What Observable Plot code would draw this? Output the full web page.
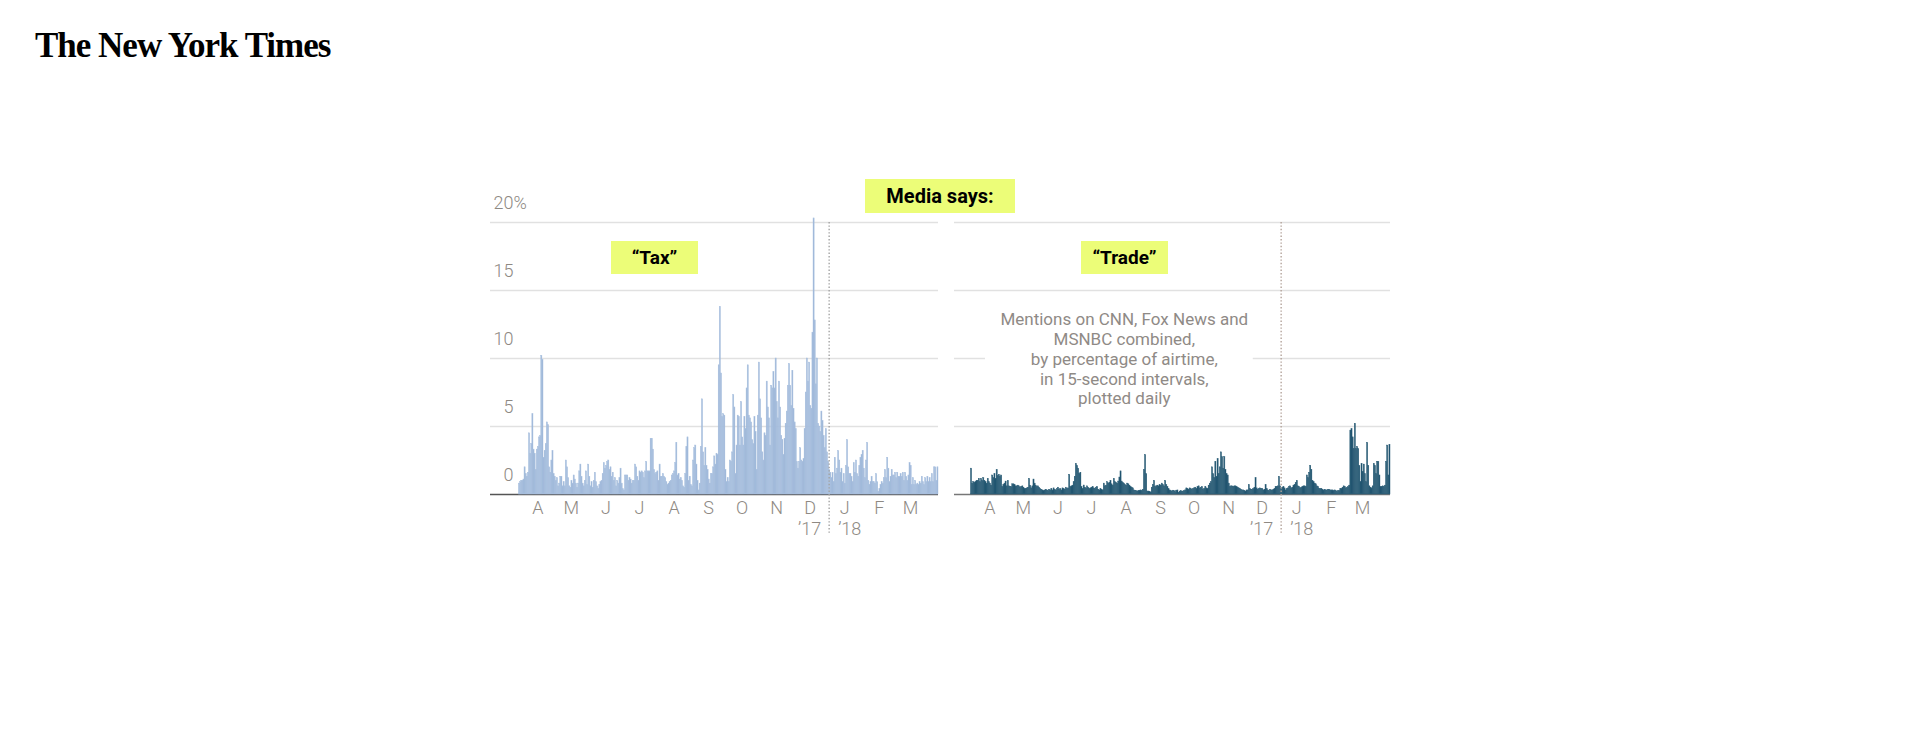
<!DOCTYPE html>
<html>
<head>
<meta charset="utf-8">
<script src="https://cdn.jsdelivr.net/npm/d3@7"></script>
<script src="https://cdn.jsdelivr.net/npm/@observablehq/plot@0.6"></script>
<style>
  html, body { margin: 0; padding: 0; background: #fff; }
  body { width: 1920px; height: 740px; position: relative; overflow: hidden; font-family: Roboto, "Liberation Sans", sans-serif; }
  .logo { position: absolute; left: 35px; top: 28px; font-family: "Liberation Serif", "DejaVu Serif", serif; font-weight: bold; font-size: 35px; line-height: 1; color: #000; letter-spacing: -1px; }
  .tag { position: absolute; background: #ecfd78; color: #000; font-weight: bold; display: flex; align-items: center; justify-content: center; }
  .chart { position: absolute; }
</style>
</head>
<body>
<div class="logo">The New York Times</div>
<div class="tag" style="left:865px;top:179px;width:150px;height:34px;font-size:20px;">Media says:</div>
<div class="tag" style="left:611px;top:241px;width:87px;height:33px;font-size:19px;">“Tax”</div>
<div class="tag" style="left:1081px;top:241px;width:87px;height:33px;font-size:19px;">“Trade”</div>
<div id="left" class="chart" style="left:480px;top:150px;"></div>
<div id="right" class="chart" style="left:945px;top:150px;"></div>
<script>
// first plotted day of both series
const startDay = "2017-03-29";

// "Tax" share of airtime (%), daily
const taxValues = [
0.8,0.9,1.0,1.0,1.1,2.0,1.5,1.3,1.6,4.5,
3.0,3.7,5.9,3.3,3.0,1.8,3.3,3.5,4.2,4.3,
10.2,9.9,2.7,3.2,3.7,5.3,5.1,2.0,1.6,2.5,
3.2,1.5,1.3,1.0,1.2,0.6,0.8,1.3,1.3,0.6,
0.9,0.6,2.5,2.0,1.2,0.6,0.5,1.0,0.8,1.4,
1.1,0.8,0.5,0.8,1.7,2.2,1.3,0.8,0.6,1.0,
1.7,0.7,2.2,1.3,0.6,0.9,0.5,1.0,1.6,0.9,
0.6,0.4,0.7,0.9,1.0,1.5,2.3,1.9,2.1,2.4,
2.5,1.8,2.0,1.3,1.6,1.0,1.2,0.6,1.0,0.8,
1.2,1.9,0.8,0.4,0.3,1.4,1.4,1.4,1.0,1.2,
1.1,0.8,1.0,1.0,2.2,2.0,1.3,1.0,1.7,1.6,
1.7,1.6,1.2,1.7,2.4,1.7,1.7,1.7,4.1,4.1,
3.3,1.8,1.5,1.6,1.7,1.0,2.2,1.3,1.3,1.5,
1.3,1.2,0.9,0.7,0.8,0.9,1.0,1.4,1.5,1.7,
2.3,3.8,1.4,1.5,1.1,1.2,1.0,0.6,0.5,1.5,
3.5,4.2,1.0,1.3,0.7,0.6,2.5,3.4,3.6,2.2,
1.0,0.3,0.8,3.5,7.0,3.1,2.1,3.4,2.1,1.8,
1.1,0.8,1.5,1.5,2.0,2.8,2.2,3.0,2.9,9.5,
13.8,8.9,5.7,5.9,5.8,1.8,0.9,1.2,0.9,2.5,
2.4,3.1,7.3,6.4,1.5,3.6,5.8,5.7,3.6,6.8,
4.2,3.6,5.7,4.8,7.8,9.5,5.8,5.6,5.3,4.0,
3.7,5.7,4.6,1.8,5.8,9.7,7.0,5.6,3.1,2.5,
4.5,4.3,8.3,6.4,5.6,3.6,8.0,7.8,9.0,7.8,
10.0,6.8,5.6,8.3,6.4,4.3,4.0,2.9,4.1,5.2,
6.1,8.0,9.6,8.0,6.5,9.1,6.3,5.3,4.8,2.4,
1.9,2.4,3.4,2.5,2.4,2.6,4.8,7.5,10.0,8.3,
9.7,6.5,6.3,11.9,20.3,12.8,8.1,10.0,5.2,5.0,
4.6,6.1,5.4,4.3,3.4,4.8,3.1,2.4,1.8,1.6,
1.2,1.6,0.9,2.7,1.5,1.9,3.2,2.5,1.6,1.9,
0.9,1.5,0.8,2.1,4.0,2.0,1.5,1.5,1.3,0.9,
2.3,1.6,2.5,1.5,1.3,2.1,2.7,2.9,3.2,1.9,
1.2,2.5,3.8,1.0,0.7,0.9,1.3,0.9,0.9,0.8,
1.5,0.9,0.2,0.4,0.7,0.9,0.8,1.2,1.8,1.2,
2.7,1.9,0.9,1.3,1.8,1.4,1.4,1.6,1.2,1.6,
1.3,1.3,1.5,1.3,1.6,1.0,1.6,1.3,1.0,1.4,
2.3,2.1,0.7,1.2,0.7,1.0,0.7,0.8,0.7,0.9,
0.8,1.3,0.9,0.7,1.2,0.9,1.3,0.9,1.2,0.9,
1.5,0.9,2.0,2.0,1.0,2.0
];

// "Trade" share of airtime (%), daily
const tradeValues = [
1.9,0.8,0.9,0.85,0.9,1.0,1.0,1.15,0.9,1.15,
1.0,1.2,1.0,0.9,0.8,1.15,0.9,0.8,0.65,1.4,
1.2,1.5,1.15,1.8,1.35,1.45,1.3,1.4,0.55,0.7,
0.8,0.95,0.6,1.0,0.6,0.55,0.55,0.75,0.75,0.7,
0.6,0.6,0.65,0.6,0.5,0.55,0.6,0.5,0.4,0.4,
0.45,0.5,1.15,0.65,0.45,0.6,1.1,0.8,0.65,0.55,
0.6,0.5,0.4,0.35,0.3,0.25,0.3,0.35,0.3,0.25,
0.35,0.3,0.4,0.3,0.45,0.35,0.3,0.4,0.5,0.35,
0.4,0.3,0.45,0.4,0.35,0.5,0.4,0.45,1.45,0.55,
0.6,0.65,0.9,1.3,2.25,2.1,1.9,1.5,1.6,0.55,
0.4,0.66,0.5,0.45,0.6,0.5,0.4,0.45,0.5,0.55,
0.45,0.4,0.5,0.55,0.35,0.3,0.4,0.35,0.3,0.8,
0.6,0.65,0.9,0.8,0.85,1.0,0.75,0.65,1.15,0.9,
0.85,0.8,0.95,1.25,1.7,0.95,0.85,0.8,0.7,0.65,
0.8,0.75,0.65,0.55,0.5,0.45,0.3,0.28,0.25,0.22,
0.25,0.28,0.3,0.25,0.35,1.8,2.9,1.5,0.22,0.22,
0.2,0.15,0.5,0.7,1.0,0.55,0.6,0.65,0.6,0.7,
0.65,0.8,0.7,0.6,1.0,0.7,0.55,0.4,0.3,0.25,
0.22,0.28,0.25,0.18,0.28,0.3,0.12,0.22,0.25,0.2,
0.22,0.25,0.3,0.45,0.4,0.35,0.45,0.4,0.35,0.4,
0.45,0.5,0.4,0.55,0.6,0.45,0.5,0.55,0.35,0.4,
0.55,0.45,0.4,0.65,0.8,0.9,2.0,1.5,1.2,2.4,
1.3,2.6,1.5,2.0,3.1,2.75,1.9,2.75,1.8,1.5,
1.4,0.8,0.55,0.6,0.6,0.55,0.6,0.6,0.55,0.5,
0.45,0.4,0.35,0.3,0.3,0.25,0.22,0.3,0.3,0.7,
0.4,0.35,0.35,0.4,0.5,1.2,0.45,0.35,0.4,0.45,
0.4,0.4,0.3,0.35,0.7,0.4,0.3,0.25,0.35,0.3,
0.3,0.35,0.4,0.55,0.55,0.6,1.3,0.6,0.4,0.5,
0.55,0.45,0.3,0.4,0.45,0.55,0.6,0.45,0.5,0.65,
0.7,0.85,1.0,0.6,0.55,0.45,0.5,0.55,0.6,0.6,
0.55,1.4,1.2,1.6,2.1,1.8,1.0,0.9,0.8,0.75,
0.6,0.55,0.4,0.4,0.4,0.35,0.3,0.35,0.3,0.3,
0.35,0.35,0.3,0.3,0.3,0.25,0.3,0.25,0.2,0.25,
0.25,0.4,0.4,0.5,0.6,0.55,0.45,0.5,0.55,0.65,
4.7,4.8,4.2,3.35,5.2,3.35,3.5,3.35,2.1,0.9,
2.25,1.65,2.2,1.5,0.9,3.8,2.1,0.6,0.5,0.45,
0.6,2.25,2.1,1.5,2.4,2.4,1.4,0.55,0.55,0.6,
0.55,0.65,2.4,3.6,1.4,3.65
];

const yTicks = [0, 5, 10, 15, 20];
const monthLabels = ["A","M","J","J","A","S","O","N","D","J","F","M"];
const yearLabels = ["’17", "’18"];
const yearBreak = "2018-01-01";
const noteText = "Mentions on CNN, Fox News and\nMSNBC combined,\nby percentage of airtime,\nin 15-second intervals,\nplotted daily";

const start = new Date(startDay + "T00:00Z");
const tax = taxValues.map((v, i) => ({date: d3.utcDay.offset(start, i), value: v}));
const trade = tradeValues.map((v, i) => ({date: d3.utcDay.offset(start, i), value: v}));
const monthTicks = monthLabels.map((m, i) => ({date: new Date(Date.UTC(2017, 3 + i, 15)), label: m}));
const breakDate = new Date(yearBreak + "T00:00Z");

const gray = "#8e8983";
const font = "Roboto, 'Liberation Sans', sans-serif";

function panel({data, fill, edge, domainStart, width, marginLeft, marginRight, yLabels, dotColor, baseColor, note}) {
  const marks = [
    Plot.ruleY(yTicks.filter(d => d > 0), {stroke: "#e1e1e1", strokeWidth: 1.3}),
  ];
  if (note) {
    marks.push(Plot.rect([0], {
      x1: () => new Date("2017-04-11T00:00Z"), x2: () => new Date("2017-12-07T00:00Z"),
      y1: () => 6.2, y2: () => 13.9, fill: "white"
    }));
    marks.push(Plot.text([noteText], {
      x: () => new Date("2017-08-13T10:00Z"), y: () => 10, text: d => d,
      textAnchor: "middle", lineAnchor: "middle", lineHeight: 1.16,
      fontSize: 17, fill: "#8f8a86", fontFamily: font
    }));
  }
  marks.push(
    Plot.ruleY([0], {stroke: baseColor, strokeWidth: 1.3}),
    Plot.rectY(data, {x: "date", y: "value", interval: "day", fill, stroke: edge, strokeWidth: 0.45, inset: 0}),
    Plot.ruleX([breakDate], {y1: 20, y2: 0, insetBottom: -39, stroke: dotColor, strokeWidth: 1.4, strokeDasharray: "1.4,2"}),
    Plot.text(monthTicks, {x: "date", text: "label", frameAnchor: "bottom", dy: 14, lineAnchor: "middle",
      fontSize: 18, fontWeight: 300, fill: gray, fontFamily: font}),
    Plot.text([yearLabels[0]], {x: () => breakDate, text: d => d, frameAnchor: "bottom", dy: 35, dx: -8,
      textAnchor: "end", lineAnchor: "middle", fontSize: 18, fontWeight: 300, fill: gray, fontFamily: font}),
    Plot.text([yearLabels[1]], {x: () => breakDate, text: d => d, frameAnchor: "bottom", dy: 35, dx: 9,
      textAnchor: "start", lineAnchor: "middle", fontSize: 18, fontWeight: 300, fill: gray, fontFamily: font})
  );
  if (yLabels) {
    marks.push(
      Plot.text(yTicks, {y: d => d, text: d => String(d), frameAnchor: "left", dx: 23, dy: -19,
        textAnchor: "end", lineAnchor: "middle", fontSize: 18, fontWeight: 300, fill: gray, fontFamily: font}),
      Plot.text([20], {y: d => d, text: () => "%", frameAnchor: "left", dx: 23, dy: -19,
        textAnchor: "start", lineAnchor: "middle", fontSize: 18, fontWeight: 300, fill: gray, fontFamily: font})
    );
  }
  return Plot.plot({
    width, height: 400,
    marginLeft, marginRight, marginTop: 72, marginBottom: 56,
    style: {background: "transparent", overflow: "visible"},
    x: {type: "utc", domain: [domainStart, new Date("2018-04-09T00:00Z")], axis: null},
    y: {domain: [0, 20], axis: null},
    marks
  });
}

document.getElementById("left").append(panel({
  data: tax, fill: "#9db6d8", edge: "#a9c0df",
  domainStart: new Date("2017-03-03T12:00Z"),
  width: 465, marginLeft: 10, marginRight: 7,
  yLabels: true, dotColor: "#a3a3a3", baseColor: "#555", note: false
}));
document.getElementById("right").append(panel({
  data: trade, fill: "#1c506c", edge: "#2d5f78",
  domainStart: new Date("2017-03-14T06:00Z"),
  width: 455, marginLeft: 9, marginRight: 10,
  yLabels: false, dotColor: "#b3a39b", baseColor: "#777", note: true
}));
</script>
</body>
</html>
